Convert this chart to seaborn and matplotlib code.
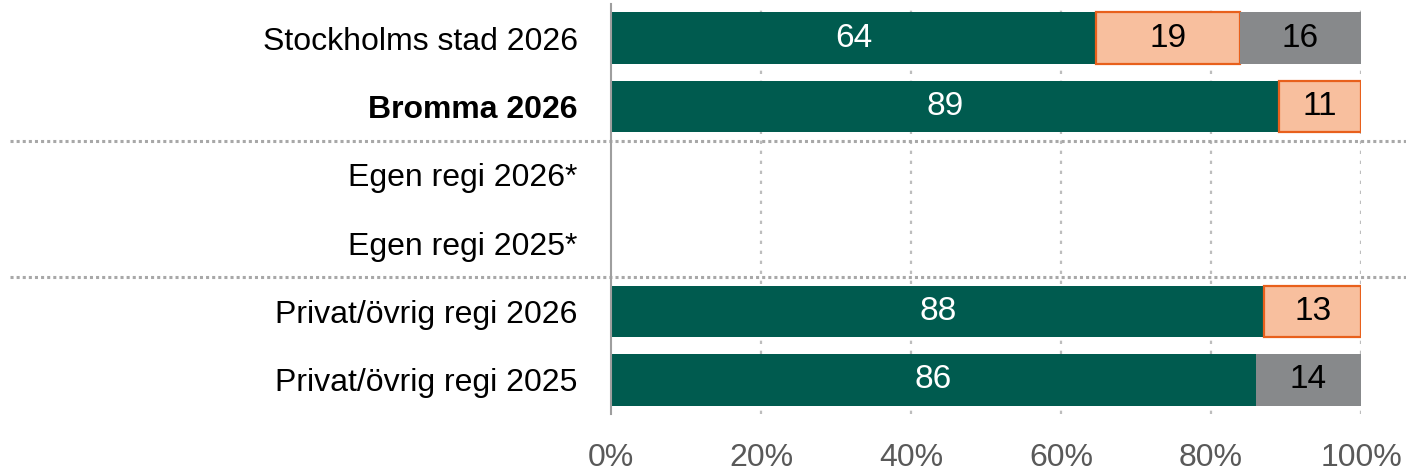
import numpy as np
import pandas as pd
import matplotlib
matplotlib.use("Agg")
import matplotlib.pyplot as plt
import matplotlib.transforms as mtransforms
import seaborn as sns

categories = [
    "Stockholms stad 2026",
    "Bromma 2026",
    "Egen regi 2026*",
    "Egen regi 2025*",
    "Privat/övrig regi 2026",
    "Privat/övrig regi 2025",
]
seg_green = [64, 89, 0, 0, 88, 86]
seg_peach = [19, 11, 0, 0, 13, 0]
seg_gray = [16, 0, 0, 0, 0, 14]
tick_values = [0, 20, 40, 60, 80, 100]
tick_labels = ["0%", "20%", "40%", "60%", "80%", "100%"]

sns.set_theme(style="white")
plt.rcParams["font.family"] = ["Liberation Sans", "DejaVu Sans"]

fig = plt.figure(figsize=(14.06, 4.72), dpi=100)
ax = fig.add_axes([0.4346, 0.1229, 0.968 - 0.4346, 0.8686])

segments = [
    (seg_green, "#005B4F", "#005B4F", 0.0, "white"),
    (seg_peach, "#F8BF9E", "#E8601C", 1.6, "black"),
    (seg_gray, "#87898B", "#87898B", 0.0, "black"),
]

# 100% stacked bars: each row's segments are shown as shares of the row total
totals = np.array(seg_green) + np.array(seg_peach) + np.array(seg_gray)
scale = np.where(totals > 0, 100.0 / np.where(totals > 0, totals, 1), 0)
left = np.zeros(len(categories))
for values, face, edge, lw, txt in segments:
    vals = np.array(values, dtype=float)
    widths = vals * scale
    df = pd.DataFrame({"cat": categories, "val": widths})
    sns.barplot(data=df, x="val", y="cat", order=categories, orient="h",
                color=face, saturation=1, width=0.76, edgecolor=edge,
                linewidth=lw, ax=ax, zorder=3)
    bars = ax.containers[-1]
    for i, patch in enumerate(bars):
        patch.set_facecolor(face)
        if vals[i] <= 0:
            patch.set_visible(False)
            continue
        patch.set_x(left[i])
        ax.text(left[i] + widths[i] / 2, i, f"{int(vals[i])}",
                ha="center", va="center", color=txt, fontsize=24, zorder=4)
    left += widths

ax.set_xlim(0, 100)
ax.set_ylim(len(categories) - 0.5, -0.5)
ax.set_xlabel("")
ax.set_ylabel("")
ax.set_xticks(tick_values)
ax.set_xticklabels(tick_labels, fontsize=23, color="#595959")
ax.tick_params(axis="x", length=0, pad=21)
ax.tick_params(axis="y", length=0, pad=24)
for lab in ax.get_yticklabels():
    lab.set_fontsize(23)
    lab.set_color("black")
    if lab.get_text() == "Bromma 2026":
        lab.set_fontweight("bold")

for s in ["top", "right", "bottom"]:
    ax.spines[s].set_visible(False)
ax.spines["left"].set_color("#9E9E9E")
ax.spines["left"].set_linewidth(1.5)
ax.spines["left"].set_zorder(5)

for xv in tick_values[1:]:
    ax.axvline(xv, color="#BDBDBD", linestyle=(0, (1.5, 3)), linewidth=1.6, zorder=1)

# group separators spanning the full width of the figure
trans = mtransforms.blended_transform_factory(fig.transFigure, ax.transData)
for yv in [1.5, 3.5]:
    ax.plot([0.007, 1.0], [yv, yv], transform=trans, color="#A8A8A8",
            linestyle=(0, (1, 1)), linewidth=2.2, clip_on=False, zorder=2)

fig.savefig("out.png", dpi=100)
